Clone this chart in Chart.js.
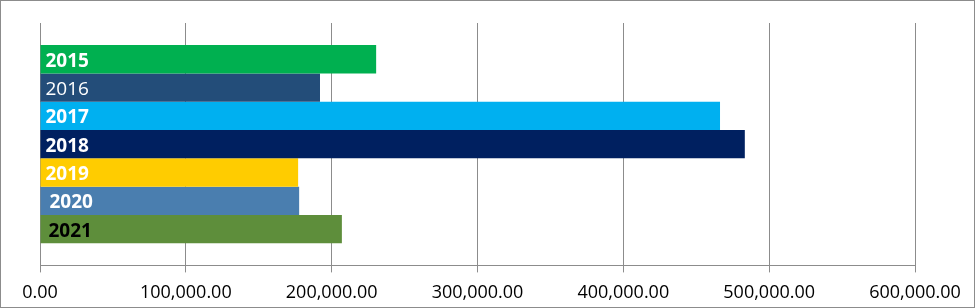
<!DOCTYPE html>
<html>
<head>
<meta charset="utf-8">
<script src="https://cdn.jsdelivr.net/npm/chart.js@4/dist/chart.umd.min.js"></script>
<style>
  html, body { margin: 0; padding: 0; background: #fff; overflow: hidden; }
  #wrap { width: 975px; height: 308px; position: relative; }
</style>
</head>
<body>
<div id="wrap"><canvas id="yearChart"></canvas></div>
<script>
// values
const years = ["2015", "2016", "2017", "2018", "2019", "2020", "2021"];
const amounts = [230500, 192000, 466300, 483300, 177000, 177700, 207000];
const xTicks = [0, 100000, 200000, 300000, 400000, 500000, 600000];

const barColors = ["#00B050", "#234D79", "#00B0F0", "#002060", "#FFCC00", "#4A7EAF", "#5E8E3B"];
const labelColors = ["#fff", "#fff", "#fff", "#fff", "#fff", "#fff", "#000"];
const labelBold = [true, false, true, true, true, true, true];
const labelShift = [5, 5, 5, 5, 5, 9, 8];

// frame around the whole picture
const framePlugin = {
    id: 'frame',
    beforeDraw(chart) {
        const ctx = chart.ctx;
        ctx.save();
        ctx.fillStyle = '#fff';
        ctx.fillRect(0, 0, chart.width, chart.height);
        ctx.strokeStyle = '#8c8c8c';
        ctx.lineWidth = 1;
        ctx.strokeRect(0.5, 0.5, chart.width - 1, chart.height - 1);
        ctx.restore();
    }
};

// year names written inside each bar, at its base
const yearLabelPlugin = {
    id: 'yearLabels',
    afterDatasetsDraw(chart) {
        const ctx = chart.ctx;
        ctx.save();
        ctx.textBaseline = 'middle';
        ctx.textAlign = 'left';
        chart.data.datasets.forEach((ds, i) => {
            const bar = chart.getDatasetMeta(i).data[0];
            ctx.font = (labelBold[i] ? 'bold ' : '') + '19px "Open Sans"';
            ctx.fillStyle = labelColors[i];
            ctx.fillText(ds.label, bar.base + labelShift[i], bar.y + 2);
        });
        ctx.restore();
    }
};

const datasets = years.map((y, i) => ({
    label: y,
    data: [amounts[i]],
    backgroundColor: barColors[i],
    borderWidth: 0,
    categoryPercentage: 0.818,
    barPercentage: 1
}));

new Chart(document.getElementById('yearChart'), {
    type: 'bar',
    data: { labels: [''], datasets: datasets },
    options: {
        indexAxis: 'y',
        responsive: true,
        maintainAspectRatio: false,
        animation: false,
        layout: { padding: { left: 40, right: 60, top: 23, bottom: -6 } },
        plugins: {
            legend: { display: false },
            tooltip: { enabled: false }
        },
        scales: {
            y: { display: false },
            x: {
                min: 0,
                max: 600000,
                afterBuildTicks(scale) {
                    scale.ticks = xTicks.map(v => ({ value: v }));
                },
                grid: {
                    color: '#8c8c8c',
                    lineWidth: 1,
                    tickLength: 7
                },
                border: { color: '#8c8c8c', width: 1 },
                ticks: {
                    color: '#000',
                    padding: 10,
                    maxRotation: 0,
                    font: { family: '"Open Sans"', size: 18 },
                    callback: v => Number(v).toLocaleString('en-US', { minimumFractionDigits: 2, maximumFractionDigits: 2 })
                }
            }
        }
    },
    plugins: [framePlugin, yearLabelPlugin]
});
</script>
</body>
</html>
